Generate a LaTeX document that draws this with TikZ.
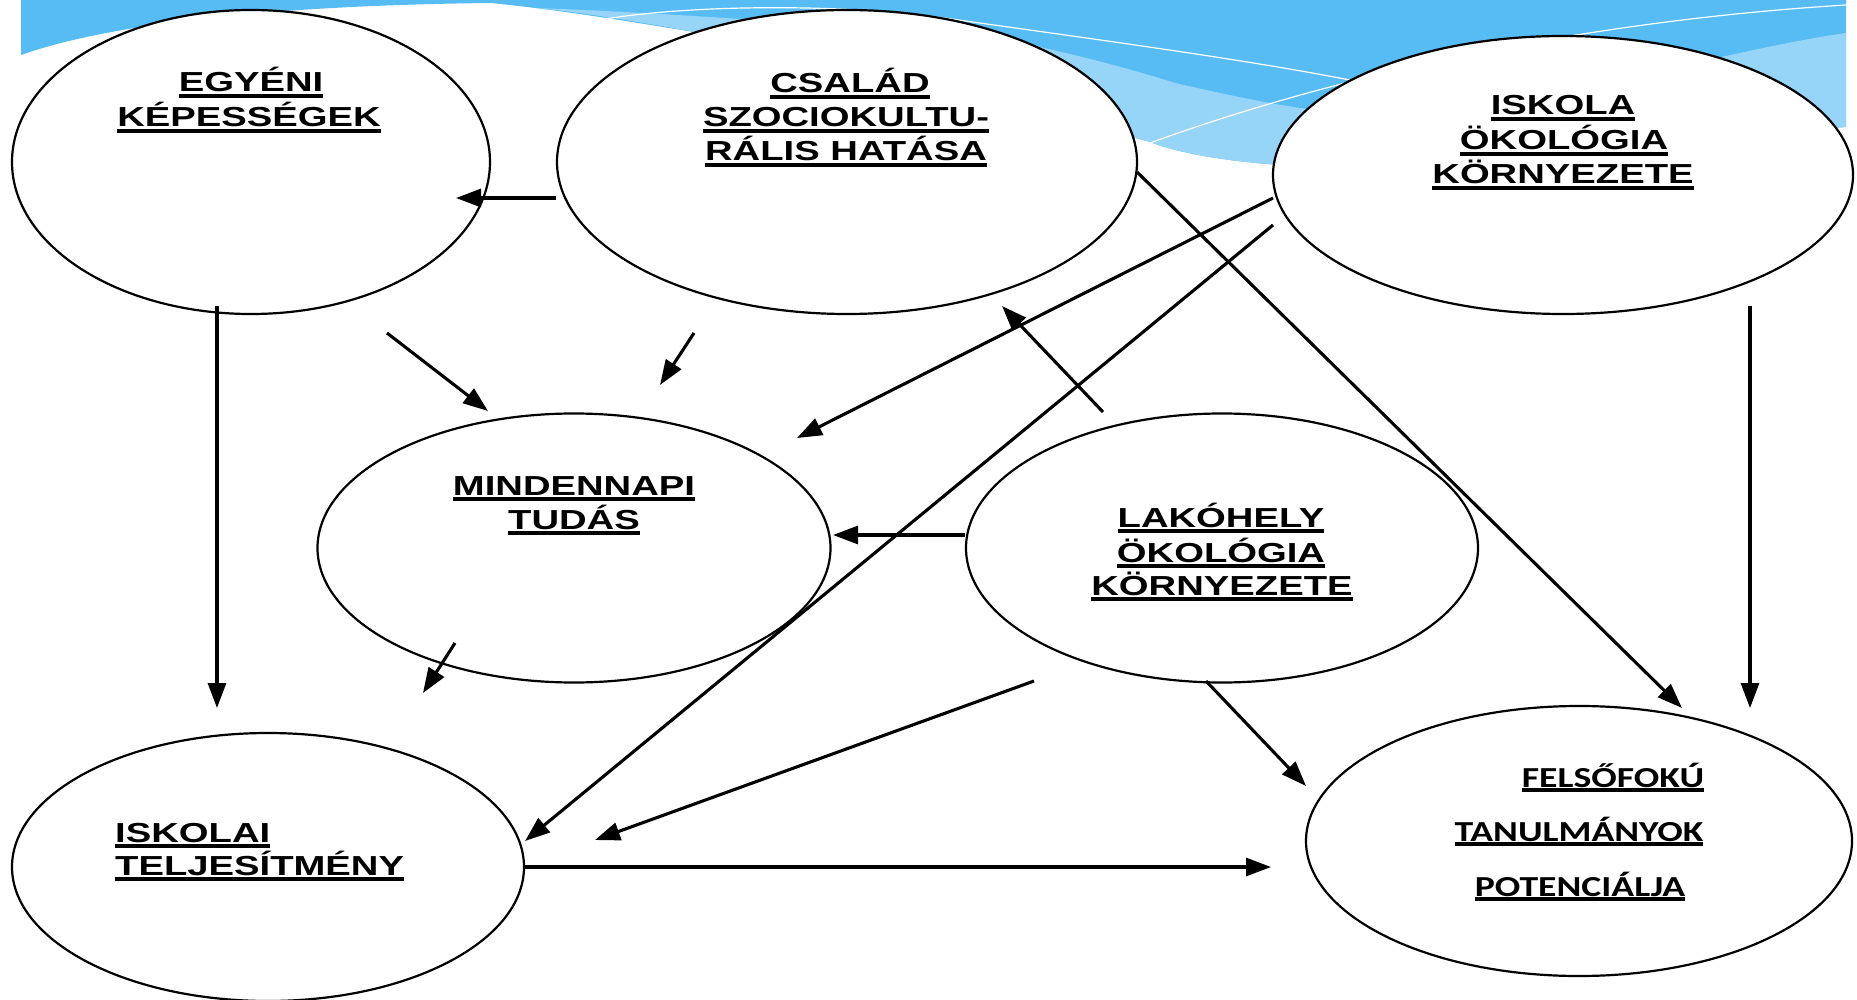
\documentclass[tikz,border=0pt]{standalone}
\usepackage{graphicx}
\usepackage{fontspec}
\setmainfont{Liberation Sans}
\newfontfamily\calib{Carlito}
\usetikzlibrary{shapes.geometric,arrows.meta}
\definecolor{skyd}{HTML}{57BCF3}
\definecolor{skyl}{HTML}{96D4F8}
\newcommand\ulx[2][6]{\setbox0\hbox{#2}\rlap{\rule[-#1pt]{\wd0}{3.8pt}}\box0}
\newcommand\wl[1]{\scalebox{1.39}[1]{\ulx{#1}}}
\newcommand\cl[1]{\scalebox{1.30}[1]{\ulx[5]{#1}}}
\tikzset{
  oval/.style={ellipse, draw, line width=2.2pt, fill=white, inner sep=0pt},
  lbl/.style={anchor=base, inner sep=0pt, font=\fontsize{27.5}{35}\selectfont\bfseries},
  clbl/.style={anchor=base, inner sep=0pt, font=\calib\fontsize{29}{35}\selectfont\bfseries},
  arr/.style={line width=3.1pt, -{Triangle[length=25pt,width=18pt]}}
}
\begin{document}
\begin{tikzpicture}[x=1pt,y=-1pt]
\useasboundingbox (0,0) rectangle (1857,1000);
% background
\fill[skyd] (21,0) -- (1846,0) -- (1846,127) -- (1280,165) .. controls (1210,160) and (1170,150) .. (1150,142)
  .. controls (1000,100) and (800,45) .. (700,33) .. controls (620,20) and (560,10) .. (491,3)
  .. controls (300,5) and (120,20) .. (21,55) -- cycle;
\fill[skyl] (536,8) .. controls (700,14) and (900,30) .. (1022,43) .. controls (1100,60) and (1150,75) .. (1175,83)
  .. controls (1250,100) and (1300,110) .. (1340,112) -- (1700,62) .. controls (1760,48) and (1810,38) .. (1846,33)
  -- (1846,127) -- (1280,165) .. controls (1210,160) and (1170,150) .. (1150,142)
  .. controls (1000,100) and (800,45) .. (700,33) .. controls (640,22) and (580,12) .. (536,8) -- cycle;
\draw[white, line width=1.2pt] (578,24) .. controls (680,2) and (850,5) .. (937,17) .. controls (1100,40) and (1250,60) .. (1360,82);
\draw[white, line width=1.2pt] (1150,143) .. controls (1350,70) and (1600,20) .. (1846,5);
% ellipses
\node[oval, minimum width=478pt, minimum height=304pt] (egy) at (251,162) {};
\node[oval, minimum width=580pt, minimum height=304pt] (csa) at (847,162) {};
\node[oval, minimum width=580pt, minimum height=278pt] (isk) at (1563,175) {};
\node[oval, minimum width=513pt, minimum height=269pt] (min) at (574,548) {};
\node[oval, minimum width=512pt, minimum height=269pt] (lak) at (1222,548) {};
\node[oval, minimum width=512pt, minimum height=268pt] (tel) at (268,867) {};
\node[oval, minimum width=546pt, minimum height=270pt] (fel) at (1579,841) {};
% labels
\node[lbl] (egy1) at (251,92) {\wl{EGYÉNI}};
\node[lbl] (egy2) at (249,127) {\wl{KÉPESSÉGEK}};
\node[lbl] (csa1) at (850,93) {\wl{CSALÁD}};
\node[lbl] (csa2) at (846,127) {\wl{SZOCIOKULTU-}};
\node[lbl] (csa3) at (846,161) {\wl{RÁLIS HATÁSA}};
\node[lbl] (isk1) at (1563,115) {\wl{ISKOLA}};
\node[lbl] (isk2) at (1564,150) {\wl{ÖKOLÓGIA}};
\node[lbl] (isk3) at (1563,184) {\wl{KÖRNYEZETE}};
\node[lbl] (min1) at (574,495) {\wl{MINDENNAPI}};
\node[lbl] (min2) at (574,529) {\wl{TUDÁS}};
\node[lbl] (lak1) at (1221,527) {\wl{LAKÓHELY}};
\node[lbl] (lak2) at (1221,562) {\wl{ÖKOLÓGIA}};
\node[lbl] (lak3) at (1222,595) {\wl{KÖRNYEZETE}};
\node[lbl, anchor=base west] (tel1) at (115,842) {\wl{ISKOLAI}};
\node[lbl, anchor=base west] (tel2) at (115,875) {\wl{TELJESÍTMÉNY}};
\node[clbl] (fel1) at (1613,787) {\cl{FELSŐFOKÚ}};
\node[clbl] (fel2) at (1579,841) {\cl{TANULMÁNYOK}};
\node[clbl] (fel3) at (1580,896) {\cl{POTENCIÁLJA}};
% free arrow ends
\coordinate (e1) at (456,198);
\coordinate (s3) at (387,333); \coordinate (e3) at (488,411);
\coordinate (s4) at (694,333); \coordinate (e4) at (660,385);
\coordinate (e5) at (797,438);
\coordinate (e6) at (525,841);
\coordinate (e7) at (1682,708);
\coordinate (s8) at (1750,306); \coordinate (e8) at (1750,708);
\coordinate (s2) at (217,306); \coordinate (e2) at (217,708);
\coordinate (s9) at (1103,412); \coordinate (e9) at (1002,306);
\coordinate (e10) at (833,535);
\coordinate (s11) at (455,643); \coordinate (e11) at (423,693);
\coordinate (s12) at (1034,681); \coordinate (e12) at (595,840);
\coordinate (s13) at (1206,681); \coordinate (e13) at (1306,786);
\coordinate (e14) at (1271,867);
% arrows
\draw[arr] (csa.west |- e1) -- (e1);
\draw[arr] (s2) -- (e2);
\draw[arr] (s3) -- (e3);
\draw[arr] (s4) -- (e4);
\draw[arr] (1273,198) coordinate (s5) -- (e5);
\draw[arr] (1273,225) coordinate (s6) -- (e6);
\draw[arr] (1137,172) coordinate (s7) -- (e7);
\draw[arr] (s8) -- (e8);
\draw[arr] (s9) -- (e9);
\draw[arr] (lak.west |- e10) -- (e10);
\draw[arr] (s11) -- (e11);
\draw[arr] (s12) -- (e12);
\draw[arr] (s13) -- (e13);
\draw[arr] (tel.east) -- (e14);
\end{tikzpicture}
\end{document}
